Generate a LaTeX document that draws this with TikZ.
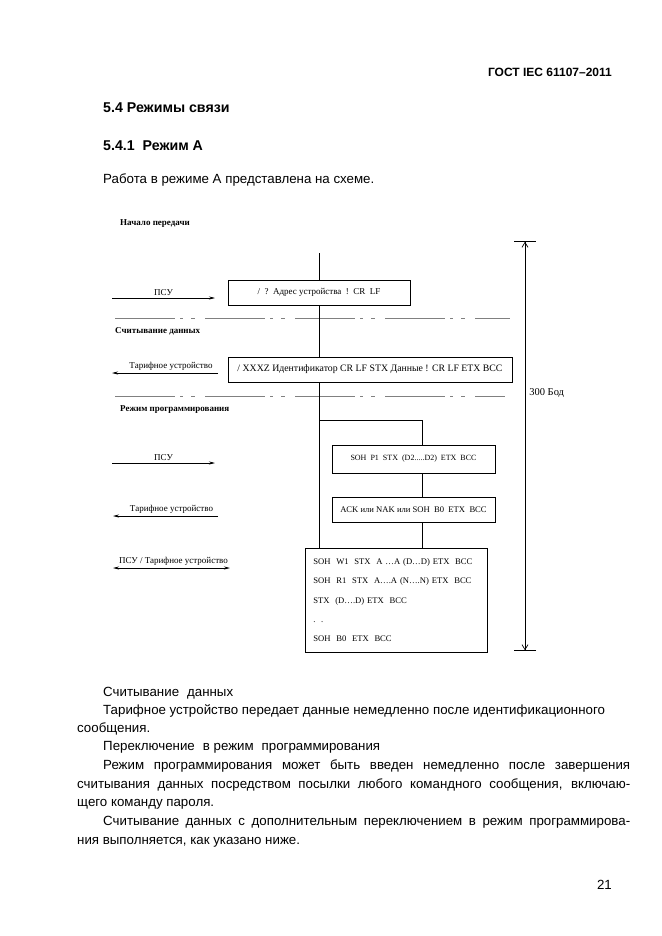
\documentclass[tikz,border=0pt]{standalone}
\usepackage{fontspec}
\setmainfont{Liberation Serif}
\newfontfamily\arialfont{Liberation Sans}
\usetikzlibrary{arrows.meta}

\begin{document}
\begin{tikzpicture}[x=1pt, y=-1pt,
  every node/.style = {inner sep=0pt},
  pagetext/.style = {font=\arialfont\fontsize{13.3}{16}\selectfont, anchor=base west},
  headtext/.style = {font=\arialfont\bfseries\fontsize{14.2}{17}\selectfont, anchor=base west},
  phase/.style = {font=\bfseries\fontsize{9}{10}\selectfont, anchor=base west},
  msg/.style = {draw, line width=0.7pt, font=\fontsize{8}{9}\selectfont, minimum height=25pt},
  link/.style = {line width=0.7pt},
  dir/.style = {line width=0.7pt, font=\fontsize{9}{10}\selectfont},
  sep/.style = {gray, line width=0.5pt, dash pattern=on 60pt off 5pt on 3pt off 8pt on 4pt off 10pt}
  ]
  \useasboundingbox (0,0) rectangle (661,936);

  % page head
  \node[headtext, anchor=base east, font=\arialfont\bfseries\fontsize{12}{14}\selectfont] (gost) at (612,77) {ГОСТ IEC 61107–2011};
  \node[headtext] (sec) at (103,113) {5.4 Режимы связи};
  \node[headtext] (subsec) at (103,151) {5.4.1\ \ Режим А};
  \node[pagetext] (intro) at (103,183) {Работа в режиме А представлена на схеме.};

  % scheme
  \node[phase] (start) at (120,225) {Начало передачи};
  \node[phase] (readout) at (115,333) {Считывание данных};
  \node[phase] (prog) at (120,411) {Режим программирования};

  \draw[sep] (115,318) -- (510,318);
  \draw[sep] (115,396) -- (505,396);

  \node[msg, minimum width=182pt, font=\fontsize{9}{10}\selectfont] (req) at (319,292.5) {/\ \ ?\ \ Адрес устройства\ \ !\ \ CR\ \ LF};
  \node[msg, minimum width=284pt, font=\fontsize{9.8}{11}\selectfont] (ident) at (370,369.5) {/ XXXZ Идентификатор CR LF STX Данные ! CR LF ETX BCC};
  \node[msg, minimum width=163pt, minimum height=28pt] (pwd) at (413.5,459) {SOH\ \ P1\ \ STX\ \ (D2.....D2)\ \ ETX\ \ BCC};
  \node[msg, minimum width=163pt, font=\fontsize{8.6}{10}\selectfont] (ack) at (413.5,509.5) {ACK или NAK или SOH\ \ B0\ \ ETX\ \ BCC};
  \node[msg, anchor=north west, minimum width=182pt, minimum height=104pt, text width=166pt, align=left,
    font=\fontsize{8.6}{19.3}\selectfont] (cmds) at (305,548)
    {SOH\ \ W1\ \ STX\ \ A …A (D…D) ETX\ \ BCC\\
     SOH\ \ R1\ \ STX\ \ A….A (N….N) ETX\ \ BCC\\
     STX\ \ (D….D) ETX\ \ BCC\\
     .\ \ .\\
     SOH\ \ B0\ \ ETX\ \ BCC};

  \coordinate (top) at (319,253);
  \coordinate (split) at (319,420);
  \coordinate (fork) at (422,420);
  \draw[link] (top) -- (req.north);
  \draw[link] (req.south) -- (req.south |- ident.north);
  \draw[link] (req.south |- ident.south) -- (req.south |- cmds.north);
  \draw[link] (split) -- (fork) -- (fork |- pwd.north);
  \draw[link] (fork |- pwd.south) -- (fork |- ack.north);
  \draw[link] (fork |- ack.south) -- (fork |- cmds.north);

  % directions
  \coordinate (psuA-w) at (112,298);
  \coordinate (psuA-e) at (215,298);
  \coordinate (meterA-e) at (218,373);
  \coordinate (meterA-w) at (112,373);
  \coordinate (psuB-w) at (112,463);
  \coordinate (psuB-e) at (215,463);
  \coordinate (meterB-e) at (218,516);
  \coordinate (meterB-w) at (113,516);
  \coordinate (both-w) at (113,568);
  \coordinate (both-e) at (230,568);
  \draw[dir, -{Stealth[length=6pt,width=3pt]}] (psuA-w) -- node[above=2pt]{ПСУ} (psuA-e);
  \draw[dir, -{Stealth[length=6pt,width=3pt]}] (meterA-e) -- node[above=2pt, xshift=6pt]{Тарифное устройство} (meterA-w);
  \draw[dir, -{Stealth[length=6pt,width=3pt]}] (psuB-w) -- node[above=2pt]{ПСУ} (psuB-e);
  \draw[dir, -{Stealth[length=6pt,width=3pt]}] (meterB-e) -- node[above=2pt, xshift=6pt]{Тарифное устройство} (meterB-w);
  \draw[dir, {Stealth[length=6pt,width=3pt]}-{Stealth[length=6pt,width=3pt]}] (both-w) -- node[above=2pt, xshift=2pt]{ПСУ / Тарифное устройство} (both-e);

  \coordinate (rate-top) at (525,241);
  \coordinate (rate-bot) at (525,651);
  \draw[dir, {Bar[width=22pt]Straight Barb[length=5pt,width=6pt]}-{Straight Barb[length=5pt,width=6pt]Bar[width=22pt]}]
    (rate-top) -- node[pos=0.37, right=4pt, font=\fontsize{10.5}{12}\selectfont]{300 Бод} (rate-bot);

  % text below
  \node[pagetext] (l1) at (103,696.5) {Считывание\hspace{8pt}данных};
  \node[pagetext] (l2) at (103,714.5) {Тарифное устройство передает данные немедленно после идентификационного};
  \node[pagetext] (l3) at (77,732.5) {сообщения.};
  \node[pagetext] (l4) at (103,750.5) {Переключение\hspace{8pt}в режим\hspace{8pt}программирования};
  \node[pagetext] (l5) at (103,769.5) {\makebox[527pt][s]{Режим программирования может быть введен немедленно после завершения}};
  \node[pagetext] (l6) at (77,788.5) {\makebox[553pt][s]{считывания данных посредством посылки любого командного сообщения, включаю-}};
  \node[pagetext] (l7) at (77,806.5) {щего команду пароля.};
  \node[pagetext] (l8) at (103,825.5) {\makebox[527pt][s]{Считывание данных с дополнительным переключением в режим программирова-}};
  \node[pagetext] (l9) at (77,844.5) {ния выполняется, как указано ниже.};
  \node[pagetext, anchor=base east] (pageno) at (612,889) {21};
\end{tikzpicture}
\end{document}
